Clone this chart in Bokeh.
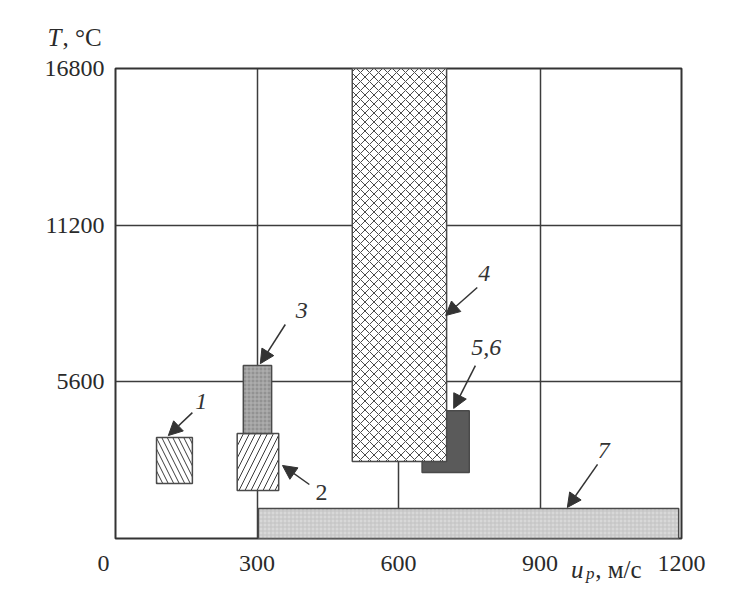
from bokeh.plotting import figure
from bokeh.models import ColumnDataSource, Arrow, NormalHead, Title, FixedTicker, Range1d
from bokeh.embed import file_html
from bokeh.resources import INLINE
from bokeh.core.properties import value

# axes
x_ticks = [0, 300, 600, 900, 1200]
x_tick_labels = {0: "0\u00a0\u00a0\u00a0\u00a0"}   # the "0" sits left of the corner
y_ticks = [5600, 11200, 16800]
x_max = 1200
y_max = 16800
y_title = ["T", ", °C"]                 # italic symbol, upright unit
x_title = ["u", "p", ",\u00a0м/с"]      # italic symbol, italic subscript, upright unit

# boxes (u_p in m/s, T in deg C), drawn in this order
box_id = ["1", "2", "3", "5,6", "4", "7"]
box_u_min = [87, 258, 271, 650, 502, 303]
box_u_max = [163, 346, 331, 750, 702, 1194]
box_t_min = [1970, 1720, 3750, 2360, 2750, 0]
box_t_max = [3610, 3750, 6180, 4570, 16800, 1070]
box_fill = ["white", "white", "#929292", "#5a5a5a", "white", "#d8d8d8"]
box_hatch = ["\\", "/", "+", " ", "x", "+"]
box_hatch_color = ["#3a3a3a", "#3a3a3a", "#b4b4b4", "#5a5a5a", "#4a4a4a", "#c2c2c2"]
box_hatch_scale = [11, 12, 4, 6, 9, 4]

# callout labels and arrows (tail -> tip)
lab_text = ["1", "2", "3", "4", "5,6", "7"]
lab_u = [182, 437, 395, 782, 786, 1035]
lab_t = [4900, 1640, 8150, 9470, 6830, 3150]
lab_style = ["italic", "normal", "italic", "italic", "italic", "italic"]
arr_u0 = [163, 411, 360, 767, 763, 1022]
arr_t0 = [4500, 1930, 7650, 8970, 6180, 2650]
arr_u1 = [112, 354, 307, 700, 717, 958]
arr_t1 = [3680, 2610, 6250, 7970, 4650, 1110]

FONT = "Liberation Serif"
DARK = "#333333"
TXT = "#2a2a2a"

p = figure(width=736, height=584, output_backend="svg", toolbar_location=None,
           x_range=Range1d(0, x_max), y_range=Range1d(0, y_max),
           min_border_left=115, min_border_right=55, min_border_top=68, min_border_bottom=46)
p.background_fill_color = "white"
p.border_fill_color = "white"
p.outline_line_color = DARK
p.outline_line_width = 2

for ax in (p.xaxis[0], p.yaxis[0]):
    ax.axis_line_color = None
    ax.major_tick_line_color = None
    ax.minor_tick_line_color = None
    ax.major_label_text_font = FONT
    ax.major_label_text_font_size = "24px"
    ax.major_label_text_color = TXT
p.xaxis.ticker = FixedTicker(ticks=x_ticks)
p.xaxis.major_label_overrides = x_tick_labels
p.yaxis.ticker = FixedTicker(ticks=y_ticks)
p.xaxis.major_label_standoff = 5
p.yaxis.major_label_standoff = 5

p.xgrid.ticker = FixedTicker(ticks=x_ticks)
p.ygrid.ticker = FixedTicker(ticks=y_ticks)
for g in (p.xgrid[0], p.ygrid[0]):
    g.grid_line_color = "#3c3c3c"
    g.grid_line_width = 1.5

# axis titles (side-panel titles are not clipped to the frame)
p.add_layout(Title(text=y_title[0], align="left", offset=-68, standoff=36, text_font=FONT,
                   text_font_size="25px", text_font_style="italic", text_color=TXT), "above")
p.add_layout(Title(text=y_title[1], align="left", offset=-53, standoff=-95, text_font=FONT,
                   text_font_size="25px", text_font_style="normal", text_color=TXT), "above")
p.add_layout(Title(text=x_title[0], align="right", offset=98, standoff=-46, vertical_align="top",
                   text_font=FONT, text_font_size="25px", text_font_style="italic",
                   text_color=TXT), "below")
p.add_layout(Title(text=x_title[2], align="right", offset=40, standoff=-46, vertical_align="top",
                   text_font=FONT, text_font_size="25px", text_font_style="normal",
                   text_color=TXT), "below")
p.add_layout(Title(text=x_title[1], align="right", offset=87, standoff=-30, vertical_align="top",
                   text_font=FONT, text_font_size="17px", text_font_style="italic",
                   text_color=TXT), "below")

box_src = ColumnDataSource(dict(left=box_u_min, right=box_u_max, bottom=box_t_min, top=box_t_max,
                                fill=box_fill, hatch=box_hatch, hcol=box_hatch_color, hscale=box_hatch_scale))
p.quad(left="left", right="right", bottom="bottom", top="top", source=box_src,
       fill_color="fill", hatch_pattern="hatch", hatch_color="hcol", hatch_scale="hscale",
       hatch_weight=1, line_color="#4a4a4a", line_width=1.5)

lab_src = ColumnDataSource(dict(x=lab_u, y=lab_t, text=lab_text, style=lab_style))
p.text(x="x", y="y", text="text", source=lab_src, text_font=value(FONT), text_font_size="24px",
       text_font_style="style", text_color=DARK, text_align="center", text_baseline="middle")

arr_src = ColumnDataSource(dict(x0=arr_u0, y0=arr_t0, x1=arr_u1, y1=arr_t1))
p.add_layout(Arrow(source=arr_src, x_start="x0", y_start="y0", x_end="x1", y_end="y1",
                   line_color=DARK, line_width=1.5,
                   end=NormalHead(size=14, fill_color=DARK, line_color=DARK, line_width=1)))

open("out.html", "w").write(file_html(p, INLINE))
